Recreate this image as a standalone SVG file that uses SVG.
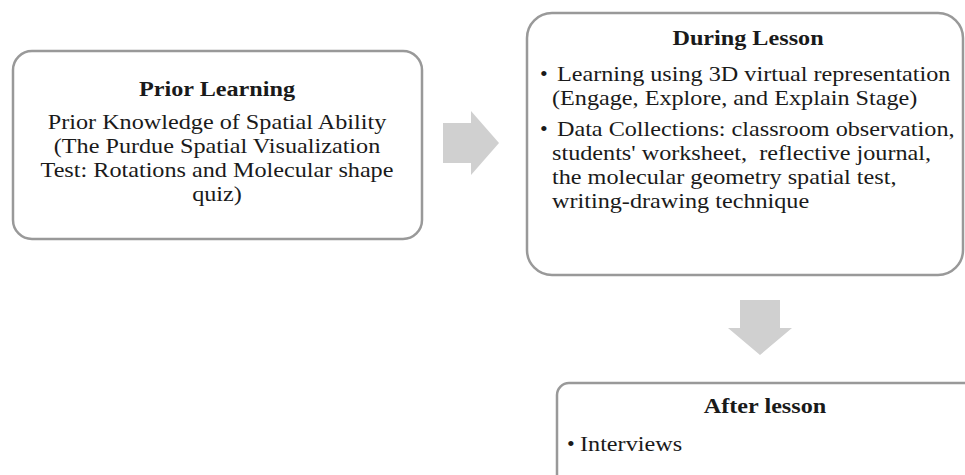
<svg xmlns="http://www.w3.org/2000/svg" width="965" height="475" viewBox="0 0 965 475">
  <style>
    .box { fill: #ffffff; stroke: #999999; stroke-width: 2.5; }
    .t { font-family: "Liberation Serif", "Times New Roman", serif; font-size: 22px; fill: #1a1a1a; }
    .b { font-weight: bold; }
    .c { text-anchor: middle; }
    .arrow { fill: #d0d0d0; stroke: none; }
  </style>
  <rect width="965" height="475" fill="#ffffff"/>

  <g id="connectors">
    <polygon class="arrow" points="443,123 471,123 471,111 499,143 471,175 471,163 443,163"/>
    <polygon class="arrow" points="740,300 780,300 780,328 792,328 760,355 728,328 740,328"/>
  </g>

  <g id="node-prior">
    <rect class="box" x="13" y="51" width="409" height="188" rx="19" ry="19"/>
    <g transform="translate(217,0) scale(1.1,1)">
      <text class="t b c" x="0" y="96">Prior Learning</text>
      <text class="t c" x="0" y="129">Prior Knowledge of Spatial Ability</text>
      <text class="t c" x="0" y="153">(The Purdue Spatial Visualization</text>
      <text class="t c" x="0" y="177">Test: Rotations and Molecular shape</text>
      <text class="t c" x="0" y="201">quiz)</text>
    </g>
  </g>

  <g id="node-during">
    <rect class="box" x="527" y="13" width="436" height="262" rx="25" ry="25"/>
    <g transform="translate(748,0) scale(1.1,1)">
      <text class="t b c" x="0" y="45">During Lesson</text>
    </g>
    <text class="t" x="540" y="81">•</text>
    <text class="t" x="540" y="136">•</text>
    <g transform="translate(552,0) scale(1.1,1)">
      <text class="t" x="4.5" y="81">Learning using 3D virtual representation</text>
      <text class="t" x="0" y="105">(Engage, Explore, and Explain Stage)</text>
      <text class="t" x="4.5" y="136">Data Collections: classroom observation,</text>
      <text class="t" x="0" y="160" xml:space="preserve">students' worksheet,  reflective journal,</text>
      <text class="t" x="0" y="184">the molecular geometry spatial test,</text>
      <text class="t" x="0" y="208">writing-drawing technique</text>
    </g>
  </g>

  <g id="node-after">
    <rect class="box" x="557" y="383" width="420" height="120" rx="12" ry="12"/>
    <g transform="translate(765,0) scale(1.1,1)">
      <text class="t b c" x="0" y="413">After lesson</text>
    </g>
    <text class="t" x="567" y="451">•</text>
    <g transform="translate(580,0) scale(1.1,1)">
      <text class="t" x="0" y="451">Interviews</text>
    </g>
  </g>
</svg>
